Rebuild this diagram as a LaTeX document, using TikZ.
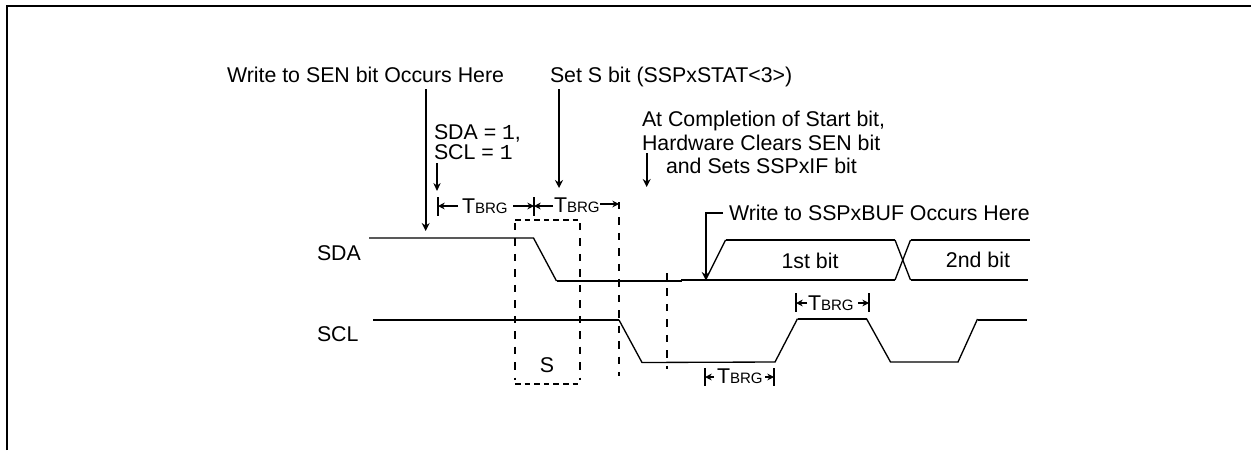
\documentclass[tikz,border=0pt]{standalone}
\usepackage{fontspec}
\setmainfont{Liberation Sans}
\setmonofont{Liberation Mono}
\usetikzlibrary{arrows.meta}
\tikzset{
  x=0.75pt,y=-0.75pt,
  lbl/.style={inner sep=0pt,outer sep=0pt,anchor=base west,font=\fontsize{16}{18}\selectfont},
  lblc/.style={inner sep=0pt,outer sep=0pt,anchor=base,font=\fontsize{16}{18}\selectfont},
  wave/.style={line width=1.5pt,line join=miter,black},
  wavethin/.style={line width=1pt,line join=miter,black},
  guide/.style={line width=1.5pt,dash pattern=on 5.6pt off 6pt,black},
  guideh/.style={line width=1.5pt,dash pattern=on 4.2pt off 3pt,black},
  ptr/.style={line width=1.5pt,-{Stealth[length=6pt,width=6pt]},black},
  ptrthin/.style={line width=0.8pt,-{Stealth[length=6pt,width=5.5pt]},black},
  dim/.style={line width=1.2pt,-{Stealth[length=5pt,width=5pt]},black},
  dimbar/.style={line width=1.5pt,black},
  frame/.style={line width=1.5pt,black}
}
\newcommand{\tbrg}{T{\fontsize{11.3}{14}\selectfont BRG}}
\begin{document}
\begin{tikzpicture}
\useasboundingbox (0,0) rectangle (1251,450);
% frame
\draw[frame] (7,450) -- (7,6) -- (1251,6);
% guides
\draw[guide] (515,223) -- (515,380);
\draw[guide] (580,223) -- (580,380);
\draw[guideh] (515,383.5) -- (580,383.5);
\draw[guideh] (515,220) -- (580,220);
\draw[guide] (619,202) -- (619,376);
\draw[guide] (666.5,273) -- (666.5,369);
% waveforms
\draw[wavethin] (369,238) -- (533.5,238) -- (556.5,281);
\draw[wave] (556.5,281) -- (682,281);
\draw[wave] (681,280) -- (705.5,280) -- (895,280);
\draw[wavethin] (705.5,280) -- (725.5,240);
\draw[wave] (725.5,240) -- (895,240);
\draw[wavethin] (895,240) -- (910.5,280);
\draw[wave] (910.5,280) -- (1028,280);
\draw[wavethin] (895,280) -- (910.5,240);
\draw[wave] (910.5,240) -- (1030,240);
\draw[wave] (373,320) -- (619,320);
\draw[wavethin] (619,320) -- (642,362.5) -- (775,362) -- (797.5,318.7);
\draw[wave] (797.5,318.7) -- (866.5,318.7);
\draw[wavethin] (866.5,318.7) -- (890.5,362) -- (958,362) -- (977.5,319);
\draw[wave] (977.5,319.5) -- (1027,319.5);
% text
\node[lbl] (sen) at (227,82) {Write to SEN bit Occurs Here};
\node[lbl] (setS) at (550,82) {Set S bit (SSPxSTAT<3>)};
\node[lbl] (eq1) at (434,139) {SDA = \texttt{1},};
\node[lbl] (eq2) at (434,159) {SCL = \texttt{1}};
\node[lbl] (comp1) at (642,126) {At Completion of Start bit,};
\node[lbl] (comp2) at (642,150) {Hardware Clears SEN bit};
\node[lbl] (comp3) at (666,173) {and Sets SSPxIF bit};
\node[lbl] (buf) at (729,220) {Write to SSPxBUF Occurs Here};
\node[lbl] (sda) at (317,260.5) {SDA};
\node[lbl] (scl) at (317,341.5) {SCL};
\node[lblc] (s) at (547,372) {S};
\node[lblc] (b1) at (810,268) {1st bit};
\node[lblc] (b2) at (978,267) {2nd bit};
\node[lbl] (t1) at (462,213) {\tbrg};
\node[lbl] (t2) at (554,212) {\tbrg};
\node[lbl] (t3) at (808,310) {\tbrg};
\node[lbl] (t4) at (717,383) {\tbrg};
% named ends
\coordinate (a1s) at (425.7,89); \coordinate (a1e) at (425.7,231);
\coordinate (a2s) at (559,89);   \coordinate (a2e) at (559,188);
\coordinate (a3s) at (437,163);  \coordinate (a3e) at (437,191);
\coordinate (a4s) at (646.7,153);\coordinate (a4e) at (646.7,187);
\coordinate (bufs) at (723,213); \coordinate (bufc) at (705.7,213); \coordinate (bufe) at (705.7,280);
\coordinate (d1a) at (438,206); \coordinate (d1b) at (534,206); \coordinate (d1c) at (619,204);
\coordinate (d3a) at (796,303); \coordinate (d3b) at (869,303);
\coordinate (d4a) at (705,377); \coordinate (d4b) at (774,377);
% pointers
\draw[ptr] (a1s) -- (a1e);
\draw[ptr] (a2s) -- (a2e);
\draw[ptrthin] (a3s) -- (a3e);
\draw[ptr] (a4s) -- (a4e);
\draw[ptr] (bufs) -- (bufc) -- (bufe);
% dimension bars
\draw[dimbar] (438,197) -- (438,216);
\draw[dimbar] (534,197) -- (534,216);
\draw[dimbar] (796,293) -- (796,312);
\draw[dimbar] (869,293) -- (869,312);
\draw[dimbar] (705,368) -- (705,386);
\draw[dimbar] (774,368) -- (774,386);
% dimension arrows
\draw[dim] (458,206) -- (d1a);
\draw[dim] (513,206) -- (d1b);
\draw[dim] (553,206) -- (d1b);
\draw[dim] (600,204) -- (d1c);
\draw[dim] (807,303) -- (d3a);
\draw[dim] (858,303) -- (d3b);
\draw[dim] (714,377) -- (d4a);
\draw[dim] (765,377) -- (d4b);
\end{tikzpicture}
\end{document}
